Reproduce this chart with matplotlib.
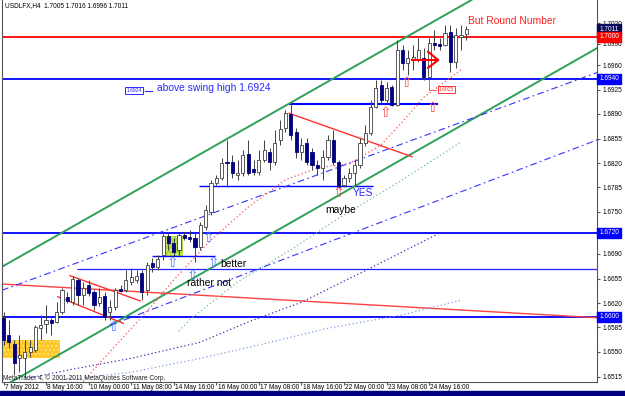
import numpy as np
import matplotlib
matplotlib.use("Agg")
import matplotlib.pyplot as plt
import matplotlib.transforms as mtransforms
from matplotlib.patches import Rectangle

# USDLFX H4 bars (oldest first)
opens = [1.6599, 1.6574, 1.6561, 1.6541, 1.6541, 1.6550, 1.6553, 1.6584, 1.6590, 1.6596,
         1.6593, 1.6607, 1.6629, 1.6621, 1.6653, 1.6631, 1.6646, 1.6636, 1.6620, 1.6630,
         1.6607, 1.6614, 1.6640, 1.6639, 1.6650, 1.6653, 1.6663, 1.6639, 1.6677, 1.6671,
         1.6689, 1.6716, 1.6706, 1.6696, 1.6717, 1.6714, 1.6713, 1.6700, 1.6729, 1.6750,
         1.6791, 1.6799, 1.6821, 1.6821, 1.6803, 1.6806, 1.6833, 1.6811, 1.6807, 1.6824,
         1.6836, 1.6821, 1.6853, 1.6870, 1.6890, 1.6864, 1.6836, 1.6849, 1.6836, 1.6817,
         1.6813, 1.6829, 1.6853, 1.6821, 1.6789, 1.6799, 1.6806, 1.6817, 1.6849, 1.6863,
         1.6900, 1.6931, 1.6910, 1.6929, 1.6903, 1.6981, 1.6963, 1.6967, 1.6967, 1.6970,
         1.6943, 1.6991, 1.6990, 1.6989, 1.7007, 1.6964, 1.7000, 1.7005]
highs = [1.6607, 1.6596, 1.6567, 1.6574, 1.6567, 1.6567, 1.6589, 1.6603, 1.6617, 1.6599,
         1.6621, 1.6641, 1.6636, 1.6659, 1.6656, 1.6650, 1.6653, 1.6639, 1.6641, 1.6636,
         1.6624, 1.6641, 1.6646, 1.6667, 1.6670, 1.6667, 1.6667, 1.6679, 1.6684, 1.6689,
         1.6719, 1.6720, 1.6713, 1.6720, 1.6721, 1.6724, 1.6721, 1.6736, 1.6760, 1.6796,
         1.6803, 1.6827, 1.6853, 1.6831, 1.6824, 1.6839, 1.6853, 1.6824, 1.6839, 1.6853,
         1.6841, 1.6867, 1.6881, 1.6896, 1.6904, 1.6870, 1.6856, 1.6856, 1.6841, 1.6824,
         1.6839, 1.6860, 1.6867, 1.6824, 1.6803, 1.6813, 1.6824, 1.6856, 1.6874, 1.6910,
         1.6939, 1.6939, 1.6936, 1.6931, 1.6996, 1.6989, 1.6981, 1.6989, 1.6999, 1.6984,
         1.6999, 1.7010, 1.6999, 1.7017, 1.7017, 1.7013, 1.7017, 1.7016]
lows = [1.6560, 1.6556, 1.6517, 1.6521, 1.6513, 1.6543, 1.6550, 1.6567, 1.6577, 1.6574,
        1.6591, 1.6604, 1.6620, 1.6617, 1.6617, 1.6617, 1.6630, 1.6610, 1.6616, 1.6596,
        1.6596, 1.6610, 1.6636, 1.6636, 1.6646, 1.6649, 1.6624, 1.6631, 1.6664, 1.6667,
        1.6681, 1.6696, 1.6687, 1.6689, 1.6710, 1.6707, 1.6679, 1.6696, 1.6724, 1.6746,
        1.6789, 1.6796, 1.6786, 1.6799, 1.6796, 1.6801, 1.6803, 1.6803, 1.6803, 1.6821,
        1.6810, 1.6817, 1.6846, 1.6864, 1.6853, 1.6827, 1.6824, 1.6817, 1.6810, 1.6803,
        1.6796, 1.6824, 1.6817, 1.6784, 1.6786, 1.6793, 1.6787, 1.6813, 1.6844, 1.6860,
        1.6899, 1.6904, 1.6904, 1.6901, 1.6901, 1.6953, 1.6946, 1.6953, 1.6964, 1.6939,
        1.6925, 1.6981, 1.6981, 1.6987, 1.6950, 1.6956, 1.6981, 1.6996]
closes = [1.6567, 1.6564, 1.6534, 1.6546, 1.6550, 1.6557, 1.6586, 1.6589, 1.6596, 1.6591,
          1.6607, 1.6639, 1.6623, 1.6654, 1.6631, 1.6641, 1.6634, 1.6617, 1.6629, 1.6600,
          1.6614, 1.6639, 1.6637, 1.6653, 1.6657, 1.6659, 1.6636, 1.6674, 1.6671, 1.6683,
          1.6716, 1.6706, 1.6693, 1.6717, 1.6713, 1.6711, 1.6700, 1.6731, 1.6753, 1.6791,
          1.6799, 1.6820, 1.6820, 1.6806, 1.6806, 1.6831, 1.6806, 1.6807, 1.6824, 1.6839,
          1.6821, 1.6849, 1.6869, 1.6891, 1.6860, 1.6836, 1.6846, 1.6821, 1.6817, 1.6813,
          1.6829, 1.6853, 1.6821, 1.6786, 1.6799, 1.6806, 1.6817, 1.6849, 1.6863, 1.6900,
          1.6927, 1.6910, 1.6927, 1.6903, 1.6981, 1.6963, 1.6970, 1.6971, 1.6981, 1.6943,
          1.6991, 1.6989, 1.6987, 1.7006, 1.6964, 1.7003, 1.7003, 1.7011]

# time axis
time_tick_bars = [0, 8, 16, 24, 32, 40, 48, 56, 64, 72, 80]
time_labels = ["7 May 2012", "8 May 16:00", "10 May 00:00", "11 May 08:00", "14 May 16:00",
               "16 May 00:00", "17 May 08:00", "18 May 16:00", "22 May 00:00",
               "23 May 08:00", "24 May 16:00"]

# price axis
price_ticks = [1.7020, 1.6990, 1.6960, 1.6925, 1.6890, 1.6855, 1.6820, 1.6785,
               1.6750, 1.6690, 1.6655, 1.6620, 1.6585, 1.6550, 1.6515]
marked_prices = [1.7011, 1.7000, 1.6940, 1.6720, 1.6600]
marked_colors = ["#0a0a5a", "#ff0000", "#0000ff", "#0000ff", "#0000ff"]

# moving average curves (bar, price)
ma_fast_bars = [14, 22, 28, 32, 39, 46, 53, 59, 65, 71, 75, 79, 86]
ma_fast_vals = [1.6500, 1.6567, 1.6617, 1.6653, 1.6710, 1.6757, 1.6796, 1.6813, 1.6819,
                1.6846, 1.6879, 1.6914, 1.6953]
ma_mid_bars = [33, 35, 44, 54, 63, 75, 86]
ma_mid_vals = [1.6580, 1.6596, 1.6650, 1.6696, 1.6741, 1.6796, 1.6850]
ma_slow_bars = [5, 12, 24, 37, 46, 56, 69, 82]
ma_slow_vals = [1.6513, 1.6524, 1.6541, 1.6564, 1.6593, 1.6621, 1.6670, 1.6720]
ma_long_bars = [11, 24, 37, 48, 61, 75, 86]
ma_long_vals = [1.6510, 1.6521, 1.6541, 1.6560, 1.6584, 1.6603, 1.6624]

# signal arrows (bar, price)
blue_arrow_bars = [20.6, 31.7, 35.6, 38.6, 39.4]
blue_arrow_prices = [1.6586, 1.6677, 1.6659, 1.6713, 1.6677]
red_arrow_bars = [62.9, 71.7, 75.8, 80.7]
red_arrow_prices = [1.6777, 1.6891, 1.6934, 1.6899]

BAR_PX = 5.32  # pixel spacing of the bars
DASHDOT = (0, (6, 3, 1.5, 3))

fig = plt.figure(figsize=(6.25, 3.96), dpi=100)
plt.rcParams["font.family"] = ["Liberation Sans", "DejaVu Sans"]
ax = fig.add_axes([2 / 625, 14 / 396, 595 / 625, 382 / 396])
ax.set_xlim(-1.5 / BAR_PX, 593.5 / BAR_PX)
ax.set_ylim(1.7 - 345 / 7000, 1.7 + 37 / 7000)

# highlight boxes
ax.add_patch(Rectangle((-0.3, 1.6541), 10.9, 0.0026, facecolor="#ffc525",
                       edgecolor="#ffe27a", hatch="....", lw=0, zorder=1))
ax.add_patch(Rectangle((30.0, 1.6687), 3.7, 0.0029, facecolor="#a6d83a",
                       edgecolor="#d7f07a", hatch="....", lw=0, zorder=1))

# horizontal levels
ax.axhline(1.7000, color="#ff0000", lw=1.3, zorder=2)
for lvl in [1.6940, 1.6720, 1.6600]:
    ax.axhline(lvl, color="#0000ff", lw=1.3, zorder=2)
ax.hlines(1.6669, 13.8, 112, color="#2222ff", lw=0.9, zorder=2)
ax.hlines(1.6904, 53.7, 81.7, color="#0000ff", lw=1.5, zorder=2)
ax.hlines(1.6787, 36.8, 69.5, color="#0000ff", lw=1.0, zorder=2)
ax.hlines(1.6687, 27.9, 39.8, color="#0000ff", lw=1.0, zorder=2)

# channel and trend lines
ax.axline((0, 1.6673), (88, 1.7053), color="#2ea05a", lw=1.4, zorder=2)
ax.axline((0, 1.6501), (100, 1.6934), color="#2ea05a", lw=1.4, zorder=2)
ax.axline((0, 1.6647), (111.5, 1.6599), color="#ff4040", lw=1.0, zorder=2)
ax.axline((0, 1.6639), (111.5, 1.6949), color="#3333ff", lw=0.8, ls=DASHDOT, zorder=2)
ax.plot([20, 111.6], [1.6588, 1.6853], color="#3333ff", lw=0.8, ls=DASHDOT, zorder=2)
ax.plot([12.5, 25.7], [1.6659, 1.6623], color="#ff3030", lw=1.0, zorder=2)
ax.plot([10.2, 22.5], [1.6629, 1.6591], color="#ff3030", lw=1.0, zorder=2)
ax.plot([53.7, 76.8], [1.6891, 1.6829], color="#ff3030", lw=1.0, zorder=2)

# moving averages
ax.plot(ma_fast_bars, ma_fast_vals, color="#ff5050", lw=0.9, ls=(0, (1, 2)), zorder=2)
ax.plot(ma_mid_bars, ma_mid_vals, color="#66c28a", lw=0.9, ls=(0, (1, 2)), zorder=2)
ax.plot(ma_slow_bars, ma_slow_vals, color="#3a2fb0", lw=0.9, ls=(0, (1, 2)), zorder=2)
ax.plot(ma_long_bars, ma_long_vals, color="#7f9fe0", lw=0.9, ls=(0, (1, 2)), zorder=2)

# candles
x = np.arange(len(opens))
o = np.array(opens)
c = np.array(closes)
up = c >= o
body_low = np.minimum(o, c)
body_h = np.maximum(np.abs(c - o), 0.00008)
ax.vlines(x, lows, highs, color="#404040", lw=0.7, zorder=3)
ax.bar(x[up], body_h[up], bottom=body_low[up], width=0.6, color="white",
       edgecolor="#404040", lw=0.6, zorder=4)
ax.bar(x[~up], body_h[~up], bottom=body_low[~up], width=0.6, color="#000080",
       edgecolor="#000080", lw=0.6, zorder=4)

# red arrow near the top
ax.plot([76.8, 81.7], [1.6967, 1.6967], color="#ff0000", lw=1.5, zorder=5)
ax.plot([79.8, 81.7, 79.8], [1.6979, 1.6967, 1.6956], color="#ff0000", lw=1.5, zorder=5)

# arrow signals
for bx, py in zip(blue_arrow_bars, blue_arrow_prices):
    ax.text(bx, py, "\u21e7", color="#4f78ff", fontsize=10, ha="center", va="center",
            family="DejaVu Sans", zorder=5)
for bx, py in zip(red_arrow_bars, red_arrow_prices):
    ax.text(bx, py, "\u21e7", color="#ff4848", fontsize=10, ha="center", va="center",
            family="DejaVu Sans", zorder=5)

# text notes
ax.text(87.3, 1.7023, "But Round Number", color="#ff2020", fontsize=7.4, va="center", zorder=6)
ax.text(28.9, 1.6927, "above swing high 1.6924", color="#2a2aff", fontsize=7.4,
        va="center", zorder=6)
ax.text(24.5, 1.6923, "1.6924", color="#2a2aff", fontsize=3.6, ha="center", va="center",
        bbox=dict(boxstyle="square,pad=0.2", fc="white", ec="#2a2aff", lw=0.7), zorder=6)
ax.plot([26.6, 27.9], [1.6923, 1.6923], color="#2a2aff", lw=0.8, zorder=6)
ax.text(65.7, 1.6777, "YES", color="#2a2aff", fontsize=7.4, va="center", zorder=6)
ax.text(60.4, 1.6753, "maybe", color="black", fontsize=7.4, va="center", zorder=6)
ax.text(40.7, 1.6676, "better", color="black", fontsize=7.4, va="center", zorder=6)
ax.text(34.5, 1.6648, "rather not", color="black", fontsize=7.4, va="center", zorder=6)
ax.plot([80, 80, 81.3], [1.6939, 1.6925, 1.6925], color="#ff6060", lw=0.7, zorder=6)
ax.text(83.3, 1.6925, "1.6925", color="#ff3030", fontsize=3.6, ha="center", va="center",
        bbox=dict(boxstyle="square,pad=0.2", fc="white", ec="#ff3030", lw=0.7), zorder=6)

ax.text(0.005, 0.985, "USDLFX,H4  1.7005 1.7016 1.6996 1.7011", transform=ax.transAxes,
        fontsize=4.7, va="center", color="black")
ax.text(0.002, 0.011, "MetaTrader 4, \u00a9 2001-2011 MetaQuotes Software Corp.",
        transform=ax.transAxes, fontsize=4.7, va="center", color="#202020", zorder=6)

# axes look
ax.spines["top"].set_visible(False)
for side in ["left", "right", "bottom"]:
    ax.spines[side].set_color("#555555")
    ax.spines[side].set_linewidth(0.8)

ax.yaxis.tick_right()
ax.set_yticks(price_ticks + [1.6720, 1.6600, 1.6940])
ax.set_yticklabels(["%.4f" % p for p in price_ticks] + ["", "", ""])
ax.tick_params(axis="y", length=2, pad=2, labelsize=4.7, color="#555555")
ax.set_xticks(time_tick_bars)
ax.set_xticklabels([])
ax.tick_params(axis="x", length=2.5, color="#555555")

tb = mtransforms.blended_transform_factory(ax.transData, ax.transAxes)
for bar_i, lbl in zip(time_tick_bars, time_labels):
    ax.text(bar_i + 0.25, -0.014, lbl, transform=tb, fontsize=4.7, va="center",
            ha="left", clip_on=False)

mb = mtransforms.blended_transform_factory(ax.transAxes, ax.transData)
for p, col in zip(marked_prices, marked_colors):
    ax.text(1.004, p, "%.4f" % p, transform=mb, fontsize=4.7, color="white",
            va="center", ha="left", clip_on=False, zorder=10,
            bbox=dict(boxstyle="square,pad=0.3", fc=col, ec=col))

# bottom frame bar
fig.patches.append(Rectangle((0, 0), 1, 5 / 396, transform=fig.transFigure,
                             color="#000080", zorder=0))

fig.savefig("out.png", dpi=100)
